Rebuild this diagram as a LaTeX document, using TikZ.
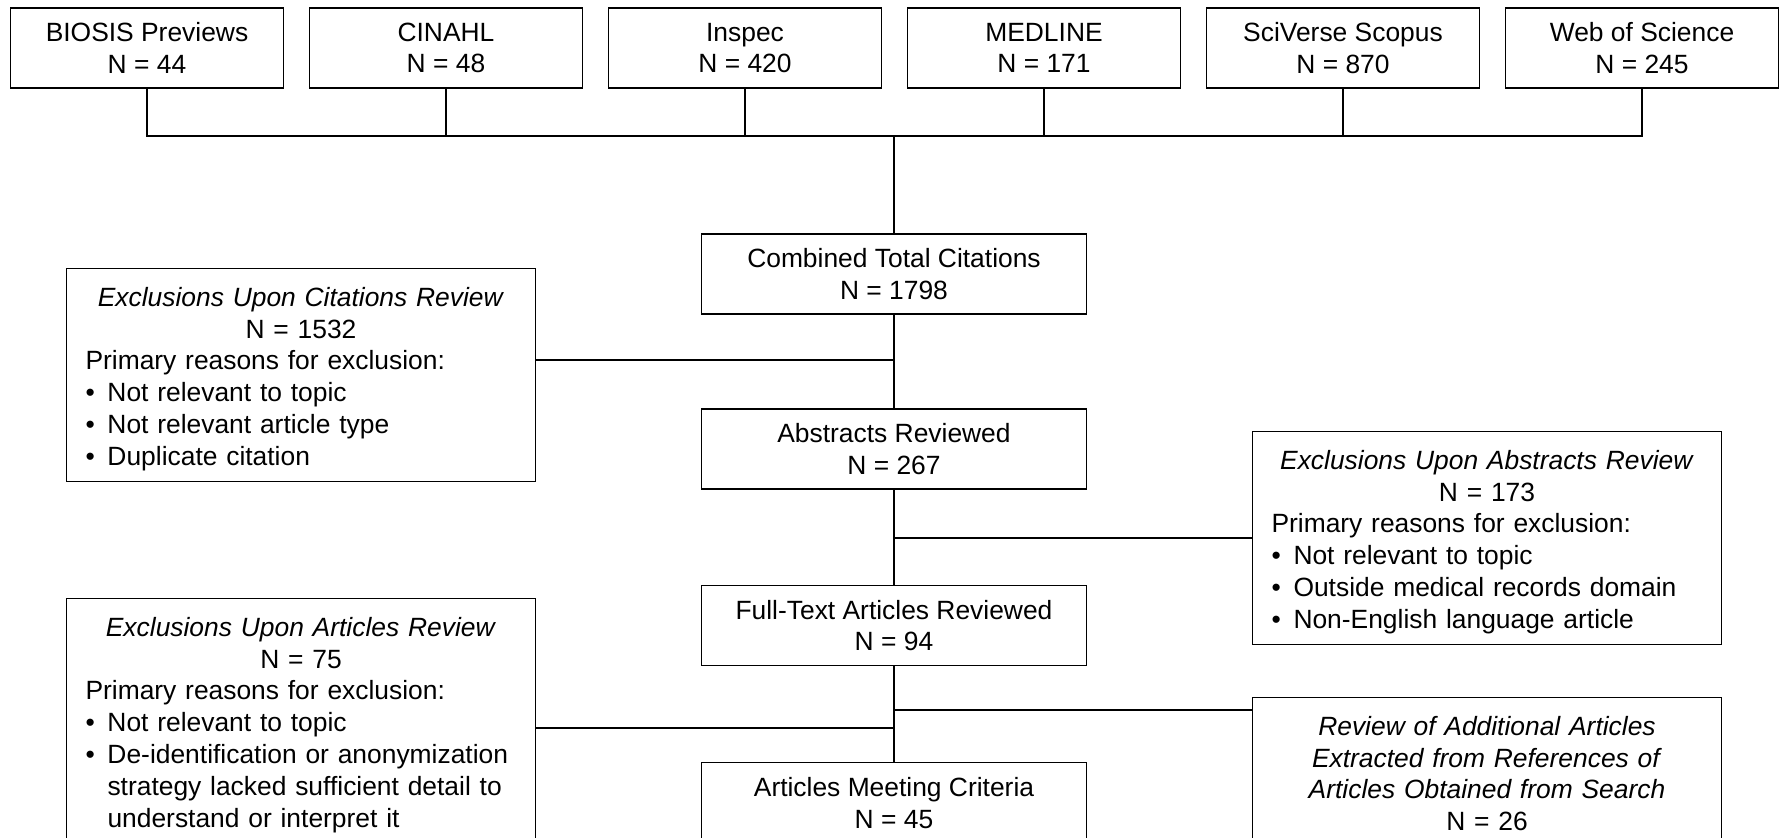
\documentclass[tikz,border=0pt]{standalone}
\usepackage{fontspec}
\setmainfont{Liberation Sans}
\usepackage{tikz}
\usetikzlibrary{positioning}

\newcommand{\bitem}{\makebox[11pt][l]{\textbullet}}
\newcommand{\bcont}{\hspace*{11pt}}

\begin{document}
\begin{tikzpicture}[x=50pt, y=50pt, line width=0.7pt,
    font=\fontsize{13.2}{15.9}\selectfont,
    src/.style={draw, align=center, minimum width=136.5pt, minimum height=40pt,
      inner ysep=3pt, execute at begin node={\rule{0pt}{15pt}}},
    stage/.style={draw, align=center, minimum width=192.5pt, minimum height=40pt,
      inner ysep=3pt, execute at begin node={\rule{0pt}{15pt}}},
    excl/.style={draw, align=left, text width=215.5pt, inner xsep=9.5pt,
      inner ysep=5.2pt, execute at begin node={\rule{0pt}{13.6pt}}}]

      \useasboundingbox (0,0) rectangle (17.85,8.38);
      \clip (0,0) rectangle (17.85,8.38);

      % databases
      \node[src]  (BIO) at ( 1.47, 7.90)  {BIOSIS Previews \\ N = 44};
      \node[src]  (CIN) at ( 4.46, 7.90)  {CINAHL \\ N = 48};
      \node[src]  (INS) at ( 7.45, 7.90)  {Inspec \\ N = 420};
      \node[src]  (MED) at (10.44, 7.90)  {MEDLINE \\ N = 171};
      \node[src]  (SCO) at (13.43, 7.90)  {SciVerse Scopus \\ N = 870};
      \node[src]  (WOS) at (16.42, 7.90)  {Web of Science \\ N = 245};

      % main column
      \node[stage] (CT) at (8.94, 5.64)   {Combined Total Citations \\ N = 1798};
      \node[stage] (AR) at (8.94, 3.89)   {Abstracts Reviewed \\ N = 267};
      \node[stage] (FT) at (8.94, 2.125)  {Full-Text Articles Reviewed \\ N = 94};
      \node[stage, anchor=north] (AM) at (8.94, 0.76) {Articles Meeting Criteria \\ N = 45};

      % exclusions
      \node[excl] (EC) at (3.01, 4.63) {{\centering\textit{Exclusions Upon Citations Review}\\ N = 1532\par}
        Primary reasons for exclusion:\\
        \bitem Not relevant to topic\\
        \bitem Not relevant article type\\
        \bitem Duplicate citation};
      \node[excl] (EA) at (14.87, 3.00) {{\centering\textit{Exclusions Upon Abstracts Review}\\ N = 173\par}
        Primary reasons for exclusion:\\
        \bitem Not relevant to topic\\
        \bitem Outside medical records domain\\
        \bitem Non-English language article};
      \node[excl, anchor=north] (EX) at (3.01, 2.40) {{\centering\textit{Exclusions Upon Articles Review}\\ N = 75\par}
        Primary reasons for exclusion:\\
        \bitem Not relevant to topic\\
        \bitem De-identification or anonymization\\
        \bcont strategy lacked sufficient detail to\\
        \bcont understand or interpret it};
      \node[excl, align=center, anchor=north] (RA) at (14.87, 1.41) {\textit{Review of Additional Articles}\\
        \textit{Extracted from References of}\\
        \textit{Articles Obtained from Search}\\
        N = 26};

      % connectors
      \coordinate (bus) at (8.94, 7.02);
      \draw (BIO.south) |- (bus) -| (WOS.south);
      \foreach \s in {CIN, INS, MED, SCO}
        \draw (\s.south) -- (\s.south |- bus);
      \draw (bus) -- (CT);

      \draw (CT) -- (AR);
      \draw (AR) -- (FT);
      \draw (FT) -- (AM);

      \coordinate (jc) at (8.94, 4.78);
      \draw (EC.east |- jc) -- (jc);
      \draw (EA) -- (EA -| CT);
      \coordinate (jr) at (8.94, 1.28);
      \draw (jr) -- (RA.west |- jr);
      \coordinate (jx) at (8.94, 1.10);
      \draw (EX.east |- jx) -- (jx);
\end{tikzpicture}
\end{document}
